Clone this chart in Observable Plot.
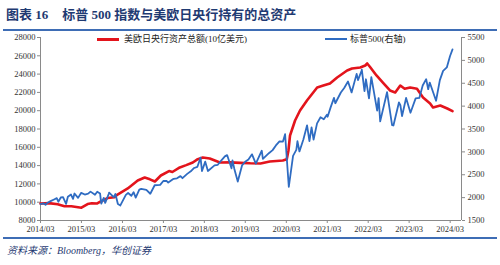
<!DOCTYPE html>
<html>
<head>
<meta charset="utf-8">
<script src="https://cdn.jsdelivr.net/npm/d3@7"></script>
<script src="https://cdn.jsdelivr.net/npm/@observablehq/plot@0.6"></script>
<style>
  html, body { margin: 0; padding: 0; background: #fff; }
  body { width: 500px; height: 265px; position: relative; overflow: hidden; }
  .title { position: absolute; left: 6px; top: 7px; font-family: "Liberation Serif", "Noto Sans CJK SC", serif; font-weight: bold; font-size: 13px; color: #1f3a72; white-space: nowrap; line-height: 16px; }
  .rule { position: absolute; left: 3px; width: 494px; height: 2px; background: #3e6db5; }
  .legend { position: absolute; font-family: "Liberation Serif", "Noto Sans CJK SC", serif; font-size: 9px; color: #222; white-space: nowrap; line-height: 10px; }
  .swatch { position: absolute; height: 3px; }
  .source { position: absolute; left: 7px; top: 242px; font-family: "Liberation Serif", "Noto Sans CJK SC", serif; font-style: italic; font-size: 10px; color: #1f3a72; white-space: nowrap; }
  #chart { position: absolute; left: 0; top: 31px; }
</style>
</head>
<body>
<div class="title">图表 16<span style="display:inline-block;width:14px"></span>标普 500 指数与美欧日央行持有的总资产</div>
<div class="rule" style="top:29px"></div>
<div id="chart"></div>
<div class="swatch" style="left:97px; top:38px; width:22px; background:#e3141c"></div>
<div class="legend" style="left:124px; top:34px">美欧日央行资产总额(10亿美元)</div>
<div class="swatch" style="left:325px; top:38px; width:22px; height:2px; background:#2f6cc2"></div>
<div class="legend" style="left:350px; top:34px">标普500(右轴)</div>
<div class="rule" style="top:237px"></div>
<div class="source">资料来源：Bloomberg，华创证券</div>
<script>
// ---- data ----
const xTickLabels = ["2014/03","2015/03","2016/03","2017/03","2018/03","2019/03","2020/03","2021/03","2022/03","2023/03","2024/03"];
const leftTicks = [8000,10000,12000,14000,16000,18000,20000,22000,24000,26000,28000];
const rightTicks = [1500,2000,2500,3000,3500,4000,4500,5000,5500];

const cbDates = ["2014-03-01","2014-05-15","2014-08-01","2014-10-01","2014-12-01","2015-01-15","2015-03-01","2015-04-25","2015-06-01","2015-07-20","2015-08-20","2015-10-20","2015-12-20","2016-01-17","2016-04-17","2016-07-15","2016-09-15","2016-11-01","2016-12-15","2017-02-06","2017-04-20","2017-05-20","2017-07-25","2017-09-20","2017-11-18","2018-01-01","2018-02-15","2018-04-18","2018-07-18","2018-10-15","2019-01-15","2019-04-15","2019-07-15","2019-10-06","2020-01-30","2020-03-05","2020-03-20","2020-04-03","2020-05-18","2020-07-01","2020-09-01","2020-12-01","2021-01-25","2021-03-25","2021-05-28","2021-08-25","2021-10-08","2021-12-20","2022-02-03","2022-02-20","2022-03-16","2022-05-14","2022-07-10","2022-09-11","2022-10-28","2022-12-12","2023-01-20","2023-03-10","2023-05-10","2023-07-03","2023-09-04","2023-09-30","2023-12-04","2024-02-04","2024-03-22"];
const cbValues = [9860,9900,9780,9560,9550,9480,9400,9800,9880,9860,10080,10450,10550,10840,11500,12370,12700,12500,12260,12920,13400,13300,13800,14050,14340,14700,14890,14780,14340,14350,14300,14250,14230,14450,14560,14700,15650,17290,18930,20020,21110,22540,22750,22970,23630,24390,24610,24720,24940,25160,24800,23850,23080,22210,21990,22750,22400,22540,22400,21440,20790,20350,20570,20240,19950];

const spxDates = ["2014-03-01","2014-03-31","2014-04-15","2014-04-30","2014-05-30","2014-06-30","2014-07-24","2014-08-07","2014-08-29","2014-09-18","2014-10-15","2014-10-31","2014-11-28","2014-12-16","2014-12-29","2015-01-30","2015-02-27","2015-03-31","2015-04-30","2015-05-21","2015-06-30","2015-07-20","2015-08-14","2015-08-25","2015-09-16","2015-09-29","2015-10-30","2015-11-03","2015-12-14","2015-12-29","2016-01-20","2016-02-11","2016-03-31","2016-04-20","2016-05-19","2016-06-08","2016-06-27","2016-07-29","2016-08-15","2016-09-30","2016-11-04","2016-12-13","2017-01-31","2017-02-28","2017-03-31","2017-04-13","2017-05-31","2017-06-30","2017-07-31","2017-08-18","2017-09-29","2017-10-31","2017-11-30","2017-12-29","2018-01-26","2018-02-08","2018-03-09","2018-04-02","2018-05-31","2018-06-29","2018-07-31","2018-08-31","2018-09-20","2018-10-29","2018-11-07","2018-11-23","2018-12-24","2019-01-31","2019-02-28","2019-03-29","2019-04-30","2019-06-03","2019-07-26","2019-08-05","2019-09-30","2019-10-31","2019-11-29","2019-12-31","2020-01-31","2020-02-19","2020-03-23","2020-04-30","2020-05-29","2020-06-08","2020-06-26","2020-07-31","2020-09-02","2020-09-23","2020-10-12","2020-10-30","2020-11-30","2020-12-31","2021-01-29","2021-02-26","2021-03-04","2021-03-31","2021-04-30","2021-05-12","2021-06-30","2021-07-30","2021-09-02","2021-10-04","2021-11-18","2021-11-30","2021-12-31","2022-01-03","2022-01-27","2022-02-09","2022-03-08","2022-03-29","2022-05-20","2022-06-02","2022-06-16","2022-08-16","2022-09-30","2022-10-12","2022-11-30","2022-12-13","2022-12-28","2023-02-02","2023-03-13","2023-04-28","2023-05-31","2023-06-30","2023-07-31","2023-08-18","2023-09-01","2023-10-27","2023-11-30","2023-12-29","2024-01-31","2024-02-29","2024-03-22"];
const spxValues = [1860,1872,1842,1884,1924,1960,1988,1910,2003,2011,1862,2018,2068,1972,2090,1995,2105,2068,2086,2131,2063,2128,2092,1868,1996,1884,2079,2110,2012,2078,1859,1829,2060,2102,2040,2119,2001,2174,2190,2168,2085,2271,2279,2364,2363,2329,2412,2423,2470,2425,2519,2575,2648,2674,2873,2581,2786,2582,2705,2718,2816,2902,2930,2641,2813,2633,2351,2704,2784,2834,2946,2744,3025,2845,2977,3038,3141,3231,3226,3386,2237,2912,3044,3232,3009,3271,3580,3237,3535,3270,3622,3756,3714,3811,3768,3973,4181,4063,4298,4395,4537,4300,4705,4567,4766,4797,4326,4587,4170,4632,3901,4176,3667,4305,3586,3577,4080,4019,3783,4179,3855,4169,4180,4450,4589,4370,4515,4117,4568,4770,4846,5096,5240];

// ---- build ----
const toLeft = v => 8000 + (v - 1500) * 5;
const fromLeft = v => Math.round((v - 8000) / 5 + 1500);
const parse = s => new Date(s + "T00:00:00Z");
const xTicks = xTickLabels.map(s => parse(s.replace("/", "-") + "-01"));
const cb = cbDates.map((d, i) => ({date: parse(d), value: cbValues[i]}));
const spx = spxDates.map((d, i) => ({date: parse(d), value: toLeft(spxValues[i])}));
const x0 = parse("2014-03-01"), x1 = parse("2024-06-10");
const axisColor = "#8a8a8a";

const chart = Plot.plot({
  width: 500,
  height: 206,
  marginLeft: 40,
  marginRight: 39,
  marginTop: 6,
  marginBottom: 17,
  x: {type: "utc", domain: [x0, x1]},
  y: {domain: [8000, 28000]},
  style: {fontFamily: "'Liberation Serif', 'Times New Roman', serif", fontSize: "8.5px", color: "#333", background: "transparent", overflow: "visible"},
  marks: [
    Plot.ruleX([x0], {stroke: axisColor}),
    Plot.ruleX([x1], {stroke: axisColor}),
    Plot.ruleY([8000], {stroke: axisColor}),
    Plot.axisX(xTicks, {tickFormat: d => xTickLabels[xTicks.findIndex(t => +t === +d)], tickSize: 3, tickPadding: 2, stroke: axisColor, label: null}),
    Plot.axisY(leftTicks, {anchor: "left", tickFormat: d => String(d), tickSize: 3, tickPadding: 2, stroke: axisColor, label: null}),
    Plot.axisY(rightTicks.map(toLeft), {anchor: "right", tickFormat: d => String(fromLeft(d)), tickSize: 3, tickPadding: 3, stroke: axisColor, label: null}),
    Plot.line(cb, {x: "date", y: "value", stroke: "#e3141c", strokeWidth: 2.6, curve: "linear"}),
    Plot.line(spx, {x: "date", y: "value", stroke: "#2f6cc2", strokeWidth: 1.8, curve: "linear"})
  ]
});
document.getElementById("chart").appendChild(chart);
</script>
</body>
</html>
